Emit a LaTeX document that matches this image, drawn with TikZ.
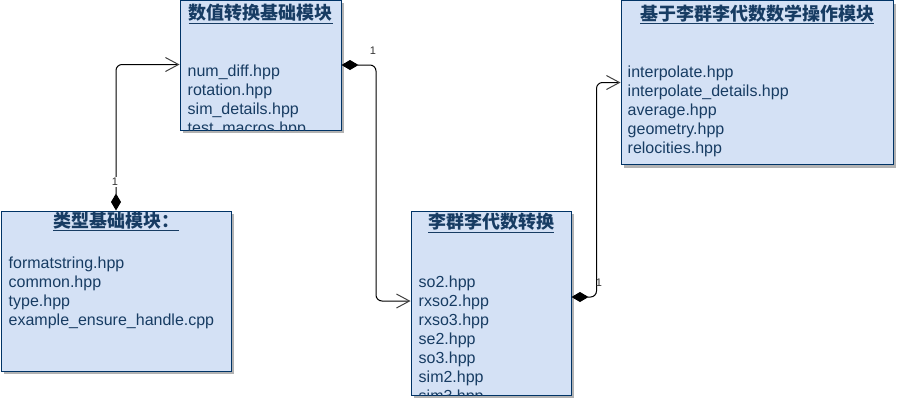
\documentclass[tikz,border=0pt]{standalone}
\usepackage{fontspec}
\setmainfont{Liberation Sans}
\newfontfamily\cjk{Noto Sans CJK SC}
\usetikzlibrary{arrows.meta,shadows}
\definecolor{boxfill}{HTML}{D4E1F5}
\definecolor{boxline}{HTML}{003366}
\definecolor{boxtext}{HTML}{173C63}
\definecolor{lblgray}{HTML}{333333}
\begin{document}
\begin{tikzpicture}[x=1pt,y=-1pt,
  umlbox/.style={draw=boxline, fill=boxfill, line width=1pt, inner sep=0pt,
    drop shadow={shadow xshift=3pt, shadow yshift=-3pt, fill=black!30, opacity=1}},
  boxtitle/.style={anchor=base, inner sep=0pt, text=boxtext,
    font=\cjk\bfseries\fontsize{18}{20}\selectfont},
  fileline/.style={anchor=base west, inner sep=0pt, text=boxtext,
    font=\fontsize{16}{19}\selectfont},
  conn/.style={draw=black, line width=1pt, rounded corners=6pt,
    {Diamond[length=17pt,width=10pt]}-{Straight Barb[length=13pt,width=14pt,line width=1pt,color=black!75]}},
  lbl/.style={inner sep=0pt, text=lblgray, font=\fontsize{11}{13}\selectfont}]
\useasboundingbox (0,0) rectangle (904,400);

% boxes
\node[umlbox, minimum width=161pt, minimum height=130pt] (b1) at (260.5,65) {};
\node[umlbox, minimum width=230pt, minimum height=160pt] (b2) at (116,291) {};
\node[umlbox, minimum width=160pt, minimum height=184pt] (b3) at (491,303) {};
\node[umlbox, minimum width=272pt, minimum height=164pt] (b4) at (757,82.5) {};

% titles
\node[boxtitle] (b1t) at ([yshift=-20pt]b1.north) {\underline{数值转换基础模块}};
\node[boxtitle] (b2t) at ([yshift=-17pt]b2.north) {\underline{类型基础模块：}};
\node[boxtitle] (b3t) at ([yshift=-18pt]b3.north) {\underline{李群李代数转换}};
\node[boxtitle] (b4t) at ([yshift=-20pt]b4.north) {\underline{基于李群李代数数学操作模块}};

% contents
\begin{scope}
\clip (b1.south west) rectangle (b1.north east);
\foreach \t [count=\i] in {num\_diff.hpp, rotation.hpp, sim\_details.hpp, test\_macros.hpp}
  \node[fileline] (b1l\i) at ([xshift=8pt,yshift={-77pt-19pt*(\i-1)}]b1.north west) {\t};
\end{scope}

\foreach \t [count=\i] in {formatstring.hpp, common.hpp, type.hpp, example\_ensure\_handle.cpp}
  \node[fileline] (b2l\i) at ([xshift=8pt,yshift={-58pt-19pt*(\i-1)}]b2.north west) {\t};

\begin{scope}
\clip (b3.south west) rectangle (b3.north east);
\foreach \t [count=\i] in {so2.hpp, rxso2.hpp, rxso3.hpp, se2.hpp, so3.hpp, sim2.hpp, sim3.hpp}
  \node[fileline] (b3l\i) at ([xshift=8pt,yshift={-77pt-19pt*(\i-1)}]b3.north west) {\t};
\end{scope}

\foreach \t [count=\i] in {interpolate.hpp, interpolate\_details.hpp, average.hpp, geometry.hpp, relocities.hpp}
  \node[fileline] (b4l\i) at ([xshift=7pt,yshift={-77pt-19pt*(\i-1)}]b4.north west) {\t};

% connectors
\draw[conn] (b2.north) |- ([yshift=0.5pt]b1.west);
\coordinate (c2) at ([xshift=34.5pt]b1.east);
\draw[conn] (b1.east) -- (c2) |- ([yshift=2pt]b3.west);
\coordinate (c3) at ([xshift=25pt,yshift=6pt]b3.east);
\draw[conn] ([yshift=6pt]b3.east) -- (c3) |- (b4.west);

% multiplicity labels
\node[lbl, fill=white, inner sep=1pt] (m1) at (115,182) {1};
\node[lbl] (m2) at (373,51) {1};
\node[lbl] (m3) at (599,283) {1};
\end{tikzpicture}
\end{document}
